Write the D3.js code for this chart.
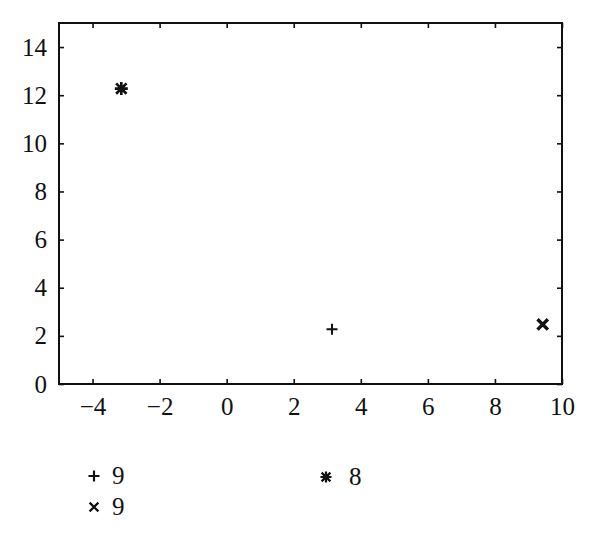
<!DOCTYPE html>
<html>
<head>
<meta charset="utf-8">
<script src="https://cdn.jsdelivr.net/npm/d3@7"></script>
<style>
  html, body { margin: 0; padding: 0; background: #fff; }
  svg { display: block; }
</style>
</head>
<body>
<svg id="chart" width="600" height="538"></svg>
<script>
// ---- data ----
const seriesLabels  = ["9", "9", "8"];
const seriesSymbols = ["plus", "cross", "star"];
const xValues = [3.1416, 9.4248, -3.1416];
const yValues = [2.275, 2.475, 12.275];
const xDomain = [-5, 10];
const yDomain = [0, 15];
const xTicks = [-4, -2, 0, 2, 4, 6, 8, 10];
const yTicks = [0, 2, 4, 6, 8, 10, 12, 14];

// ---- layout ----
const W = 600, H = 538;
const margin = { left: 59, right: 38, top: 23, bottom: 154 };
const svg = d3.select("#chart");
const x = d3.scaleLinear().domain(xDomain).range([margin.left, W - margin.right]);
const y = d3.scaleLinear().domain(yDomain).range([H - margin.bottom, margin.top]);

const fmt = d => (d < 0 ? "\u2212" + Math.abs(d) : String(d));
const fontSize = 25;
const fontFamily = "'Liberation Serif', 'Times New Roman', serif";

function styleAxis(g) {
  g.attr("font-family", fontFamily).attr("font-size", fontSize);
  g.select(".domain").remove();
  g.selectAll(".tick line").attr("stroke", "#111").attr("stroke-width", 1.6);
  g.selectAll("text")
    .attr("font-family", fontFamily)
    .attr("font-size", fontSize)
    .attr("fill", "#111");
}

// bottom
svg.append("g").attr("transform", `translate(0,${y(0)})`)
  .call(d3.axisBottom(x).tickValues(xTicks).tickFormat(fmt).tickSizeInner(-5).tickSizeOuter(0).tickPadding(13))
  .call(styleAxis);
// top
svg.append("g").attr("transform", `translate(0,${y(15)})`)
  .call(d3.axisTop(x).tickValues(xTicks).tickFormat("").tickSizeInner(-5).tickSizeOuter(0))
  .call(styleAxis);
// left
svg.append("g").attr("transform", `translate(${x(-5)},0)`)
  .call(d3.axisLeft(y).tickValues(yTicks).tickFormat(fmt).tickSizeInner(-5).tickSizeOuter(0).tickPadding(12))
  .call(styleAxis);
// right
svg.append("g").attr("transform", `translate(${x(10)},0)`)
  .call(d3.axisRight(y).tickValues(yTicks).tickFormat("").tickSizeInner(-5).tickSizeOuter(0))
  .call(styleAxis);

// frame
svg.append("rect")
  .attr("x", x(-5)).attr("y", y(15))
  .attr("width", x(10) - x(-5)).attr("height", y(0) - y(15))
  .attr("fill", "none").attr("stroke", "#111").attr("stroke-width", 2);

// marker paths
function markerPath(type, s) {
  const p = d3.path();
  const d = s * 0.8;
  if (type === "plus" || type === "star") {
    p.moveTo(-s, 0); p.lineTo(s, 0);
    p.moveTo(0, -s); p.lineTo(0, s);
  }
  if (type === "cross" || type === "star") {
    p.moveTo(-d, -d); p.lineTo(d, d);
    p.moveTo(-d, d); p.lineTo(d, -d);
  }
  return p.toString();
}
const plotStroke = { plus: 2, cross: 3.4, star: 2.6 };

const pts = seriesSymbols.map((s, i) => ({ sym: s, x: xValues[i], y: yValues[i] }));
svg.append("g").selectAll("path").data(pts).join("path")
  .attr("transform", d => `translate(${x(d.x)},${y(d.y)})`)
  .attr("d", d => markerPath(d.sym, d.sym === "plus" ? 5.5 : 6.5))
  .attr("fill", "none").attr("stroke", "#111")
  .attr("stroke-width", d => plotStroke[d.sym]);

// legend
const legendPos = [
  { mx: 94, my: 476 },
  { mx: 94, my: 507 },
  { mx: 326, my: 477 }
];
const leg = svg.append("g");
seriesSymbols.forEach((s, i) => {
  const p = legendPos[i];
  leg.append("path")
    .attr("transform", `translate(${p.mx},${p.my})`)
    .attr("d", markerPath(s, 5.5))
    .attr("fill", "none").attr("stroke", "#111").attr("stroke-width", 2.2);
  leg.append("text")
    .attr("x", p.mx + (s === "star" ? 23 : 18)).attr("y", p.my + 8)
    .attr("font-family", fontFamily)
    .attr("font-size", fontSize)
    .attr("fill", "#111")
    .text(seriesLabels[i]);
});
</script>
</body>
</html>
